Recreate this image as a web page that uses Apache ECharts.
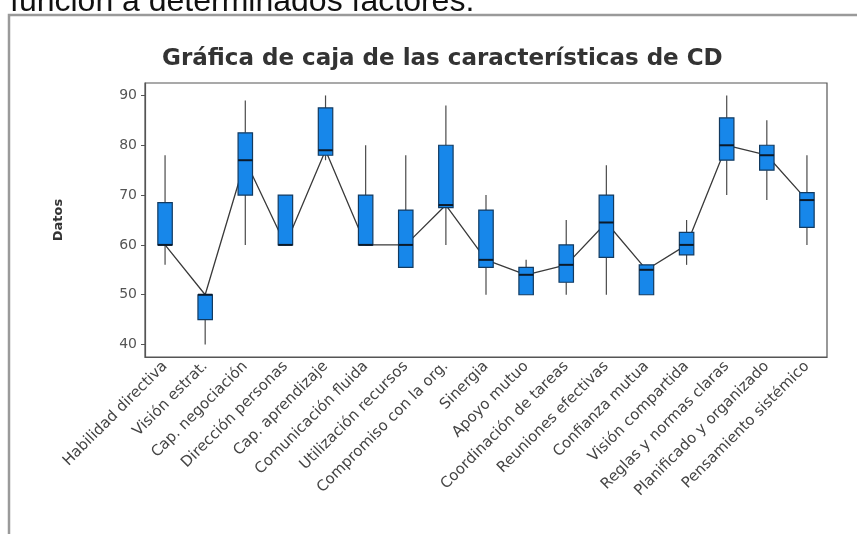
<!DOCTYPE html>
<html>
<head>
<meta charset="utf-8">
<script src="https://cdn.jsdelivr.net/npm/echarts@6/dist/echarts.min.js"></script>
<style>
  html, body { margin: 0; padding: 0; background: #fff; }
  #chart { width: 857px; height: 534px; }
</style>
</head>
<body>
<div id="chart"></div>
<script>
// Characteristics (categories) on the x axis
const categories = [
  'Habilidad directiva', 'Visión estrat.', 'Cap. negociación', 'Dirección personas',
  'Cap. aprendizaje', 'Comunicación fluida', 'Utilización recursos', 'Compromiso con la org.',
  'Sinergia', 'Apoyo mutuo', 'Coordinación de tareas', 'Reuniones efectivas',
  'Confianza mutua', 'Visión compartida', 'Reglas y normas claras',
  'Planificado y organizado', 'Pensamiento sistémico'
];

// Five-number summary per characteristic
const minValues    = [56, 40, 60, 60, 77, 60, 60, 60, 50, 50, 50, 50, 50, 56, 70, 69, 60];
const q1Values     = [60, 45, 70, 60, 78, 60, 55.5, 67.5, 55.5, 50, 52.5, 57.5, 50, 58, 77, 75, 63.5];
const medianValues = [60, 50, 77, 60, 79, 60, 60, 68, 57, 54, 56, 64.5, 55, 60, 80, 78, 69];
const q3Values     = [68.5, 50, 82.5, 70, 87.5, 70, 67, 80, 67, 55.5, 60, 70, 56, 62.5, 85.5, 80, 70.5];
const maxValues    = [78, 50, 89, 70, 90, 80, 78, 88, 70, 57, 65, 76, 56, 65, 90, 85, 78];

// Y axis tick labels
const yTicks = [40, 50, 60, 70, 80, 90];

const boxData = categories.map((c, i) => [i, minValues[i], q1Values[i], medianValues[i], q3Values[i], maxValues[i]]);

function renderBox(params, api) {
  const idx = api.value(0);
  const pMin = api.coord([idx, api.value(1)]);
  const pQ1 = api.coord([idx, api.value(2)]);
  const pMed = api.coord([idx, api.value(3)]);
  const pQ3 = api.coord([idx, api.value(4)]);
  const pMax = api.coord([idx, api.value(5)]);
  const band = api.size([1, 0])[0];
  const half = band * 0.18;
  const cx = pMed[0];
  const whisker = { stroke: '#4a4a4a', lineWidth: 1.2 };
  return {
    type: 'group',
    children: [
      { type: 'line', shape: { x1: cx, y1: pMax[1], x2: cx, y2: pQ3[1] }, style: whisker },
      { type: 'line', shape: { x1: cx, y1: pQ1[1], x2: cx, y2: pMin[1] }, style: whisker },
      {
        type: 'rect',
        shape: { x: cx - half, y: pQ3[1], width: half * 2, height: Math.max(pQ1[1] - pQ3[1], 1) },
        style: { fill: '#1787ea', stroke: '#123a60', lineWidth: 1.2 }
      },
      { type: 'line', shape: { x1: cx - half, y1: pMed[1], x2: cx + half, y2: pMed[1] }, style: { stroke: '#0b1a2a', lineWidth: 2 } }
    ]
  };
}

const chart = echarts.init(document.getElementById('chart'), null, { renderer: 'canvas' });

const sans = '"DejaVu Sans", Verdana, sans-serif';

chart.setOption({
  backgroundColor: '#ffffff',
  animation: false,
  title: {
    text: 'Gráfica de caja de las características de CD',
    left: 157,
    top: 43,
    textStyle: { fontFamily: sans, fontSize: 23, fontWeight: 'bold', color: '#333' }
  },
  graphic: [
    {
      type: 'text',
      left: 10,
      top: -14,
      style: { text: 'función a determinados factores.', font: '32px "Liberation Sans", Arial, sans-serif', fill: '#111' }
    },
    {
      type: 'polyline',
      shape: { points: [[9, 534], [9, 15], [857, 15]] },
      style: { stroke: '#9a9a9a', lineWidth: 2.5, fill: null }
    }
  ],
  grid: {
    left: 145, right: 30, top: 83, bottom: 177,
    show: true, borderColor: '#555', borderWidth: 1.2, backgroundColor: '#fff'
  },
  xAxis: {
    type: 'category',
    data: categories,
    boundaryGap: true,
    axisLine: { lineStyle: { color: '#555', width: 1.2 } },
    axisTick: { alignWithLabel: true, length: 4, lineStyle: { color: '#555' } },
    axisLabel: {
      rotate: 45, interval: 0, margin: 7,
      fontFamily: sans, fontSize: 15, color: '#444'
    }
  },
  yAxis: {
    type: 'value',
    min: 37.5, max: 92.5,
    name: 'Datos',
    nameLocation: 'middle',
    nameRotate: 90,
    nameGap: 80,
    nameTextStyle: { fontFamily: sans, fontSize: 13, fontWeight: 'bold', color: '#333' },
    axisLine: { show: true, lineStyle: { color: '#555', width: 1.2 } },
    axisTick: { show: true, length: 4, customValues: yTicks, lineStyle: { color: '#555' } },
    axisLabel: { customValues: yTicks, fontFamily: sans, fontSize: 14, color: '#555', margin: 8 },
    splitLine: { show: false }
  },
  series: [
    {
      type: 'line',
      data: medianValues,
      symbol: 'none',
      lineStyle: { color: '#3a3a3a', width: 1.3 },
      z: 1
    },
    {
      type: 'custom',
      renderItem: renderBox,
      data: boxData,
      encode: { x: 0, y: [1, 2, 3, 4, 5] },
      z: 2
    }
  ]
});
</script>
</body>
</html>
